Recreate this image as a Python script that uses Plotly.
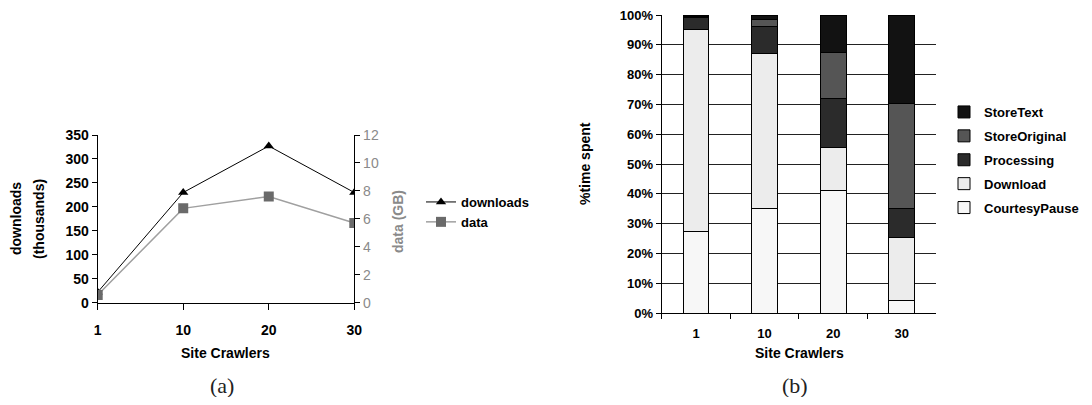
import plotly.graph_objects as go

# ---------- data ----------
crawlers = ["1", "10", "20", "30"]
downloads = [22, 230, 327, 230]          # thousands
data_gb = [0.55, 6.75, 7.6, 5.7]         # GB

courtesy_pause = [27.5, 35.0, 41.0, 4.3]
download_pct = [67.5, 52.0, 14.5, 21.2]
processing = [4.0, 9.0, 16.5, 9.5]
store_original = [0.5, 2.5, 15.5, 35.3]
store_text = [0.5, 1.5, 12.5, 29.7]

# page is 1092x405 but the page body has an 8px margin
OFF = 8
W, H = 1092 - 2 * OFF, 405 - 2 * OFF
def px(x): return (x - OFF) / W
def py(y): return (H - (y - OFF)) / H

FONT = "Liberation Sans"
bold = dict(family=FONT, size=14, color="black", weight="bold")

fig = go.Figure()

# ---------- (a) line chart ----------
fig.add_trace(go.Scatter(
    x=crawlers, y=downloads, name="downloads", mode="lines+markers",
    line=dict(color="black", width=1),
    marker=dict(symbol="triangle-up", size=9, color="black"),
    xaxis="x", yaxis="y", legend="legend"))
fig.add_trace(go.Scatter(
    x=crawlers, y=data_gb, name="data", mode="lines+markers",
    line=dict(color="#a0a0a0", width=1.5),
    marker=dict(symbol="square", size=10, color="#6a6a6a"),
    xaxis="x", yaxis="y2", legend="legend"))

# ---------- (b) stacked bars ----------
series = [
    ("CourtesyPause", courtesy_pause, "#f7f7f7"),
    ("Download", download_pct, "#ececec"),
    ("Processing", processing, "#2b2b2b"),
    ("StoreOriginal", store_original, "#555555"),
    ("StoreText", store_text, "#121212"),
]
for rank, (name, vals, col) in enumerate(series):
    fig.add_trace(go.Bar(
        x=crawlers, y=vals, name=name, legendgroup=name,
        legendrank=100 - rank,
        marker=dict(color=col, line=dict(color="black", width=1)),
        xaxis="x2", yaxis="y3", legend="legend2"))

axis_common = dict(showline=True, linecolor="black", linewidth=1,
                   ticks="outside", tickcolor="black", showgrid=False,
                   zeroline=False, fixedrange=True)

fig.update_layout(
    width=W, height=H,
    margin=dict(l=0, r=0, t=0, b=0, autoexpand=False),
    paper_bgcolor="white", plot_bgcolor="white",
    barmode="stack", bargap=0.625,
    font=dict(family=FONT, color="black"),
    xaxis=dict(domain=[px(97.7), px(354.3)], anchor="y", type="category",
               categoryorder="array", categoryarray=crawlers,
               range=[0, 3], ticklen=6, tickfont=bold, ticklabelstandoff=8,
               **axis_common),
    yaxis=dict(domain=[py(302.7), py(135)], anchor="x", range=[0, 350],
               dtick=50, ticklen=5, tickfont=bold, **axis_common),
    yaxis2=dict(overlaying="y", side="right", anchor="x", range=[0, 12],
                dtick=2, ticklen=5,
                tickfont=dict(family=FONT, size=14, color="#8a8a8a"),
                **axis_common),
    xaxis2=dict(domain=[px(661.7), px(936)], anchor="y3", type="category",
                categoryorder="array", categoryarray=crawlers,
                range=[-0.5, 3.5], ticklen=5, tickson="boundaries",
                tickfont=dict(family=FONT, size=13, color="black", weight="bold"),
                ticklabelstandoff=8,
                **axis_common),
    yaxis3=dict(domain=[py(313), py(15)], anchor="x2", range=[0, 100],
                dtick=10, ticksuffix="%", ticklen=5,
                ticklabeloverflow="allow",
                tickfont=dict(family=FONT, size=13, color="black", weight="bold"),
                showline=True, linecolor="black", linewidth=1,
                ticks="outside", tickcolor="black", showgrid=True,
                gridcolor="#222222", gridwidth=1, zeroline=False,
                fixedrange=True),
    legend=dict(x=px(421), y=py(212), xanchor="left", yanchor="middle",
                bgcolor="rgba(0,0,0,0)", font=dict(family=FONT, size=13,
                weight="bold", color="black"), traceorder="normal"),
    legend2=dict(x=px(944), y=py(160), xanchor="left", yanchor="middle",
                 bgcolor="rgba(0,0,0,0)", font=dict(family=FONT, size=13,
                 weight="bold", color="black"), traceorder="grouped",
                 tracegroupgap=4),
)

ann = [
    dict(text="downloads", x=px(16), y=py(219), textangle=-90, font=bold),
    dict(text="(thousands)", x=px(39), y=py(219), textangle=-90, font=bold),
    dict(text="data (GB)", x=px(398), y=py(222), textangle=-90,
         font=dict(family=FONT, size=14, color="#8a8a8a", weight="bold")),
    dict(text="Site Crawlers", x=px(226), y=py(353), font=bold),
    dict(text="%time spent", x=px(585), y=py(164), textangle=-90, font=bold),
    dict(text="Site Crawlers", x=px(799), y=py(353), font=bold),
    dict(text="(a)", x=px(222), y=py(385),
         font=dict(family="Liberation Serif", size=22, color="#222")),
    dict(text="(b)", x=px(795), y=py(385),
         font=dict(family="Liberation Serif", size=22, color="#222")),
]
for a in ann:
    a.update(xref="paper", yref="paper", showarrow=False,
             xanchor="center", yanchor="middle")
fig.update_layout(annotations=ann)

fig.write_html("out.html")
